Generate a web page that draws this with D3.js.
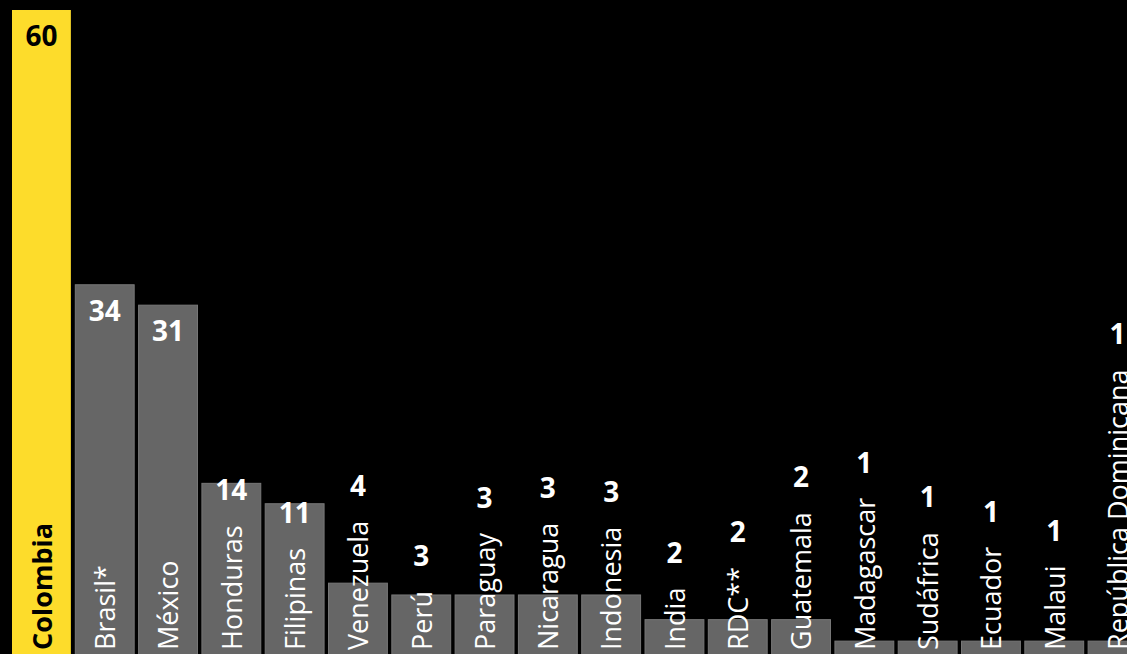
<!DOCTYPE html>
<html>
<head>
<meta charset="utf-8">
<script src="https://cdn.jsdelivr.net/npm/d3@7"></script>
<style>
  html, body { margin: 0; padding: 0; background: #000; }
  svg { display: block; }
  text { font-family: "Open Sans", "Noto Sans", sans-serif; }
</style>
</head>
<body>
<svg id="chart" width="1127" height="654"></svg>
<script>
// countries, in drawing order
var countries = ["Colombia", "Brasil*", "México", "Honduras", "Filipinas", "Venezuela",
  "Perú", "Paraguay", "Nicaragua", "Indonesia", "India", "RDC**", "Guatemala",
  "Madagascar", "Sudáfrica", "Ecuador", "Malaui", "República Dominicana"];
// numbers printed on the chart
var counts = [60, 34, 31, 14, 11, 4, 3, 3, 3, 3, 2, 2, 2, 1, 1, 1, 1, 1];
// bar lengths (the bars are not drawn to the printed numbers)
var barValues = [60, 34.4, 32.5, 15.9, 14.0, 6.6, 5.5, 5.5, 5.5, 5.5, 3.2, 3.2, 3.2, 1.2, 1.2, 1.2, 1.2, 1.2];

var svg = d3.select("#chart");
var width = 1127, height = 654;

svg.append("rect").attr("width", width).attr("height", height).attr("fill", "#000");

// the last bar runs off the right edge
var x = d3.scaleBand()
  .domain(countries)
  .range([12, 1147])
  .paddingInner(0.07)
  .paddingOuter(0);

var y = d3.scaleLinear()
  .domain([0, 60])
  .range([654, 10]);

var rows = countries.map(function(c, i) {
  return { name: c, count: counts[i], v: barValues[i], first: i === 0 };
});

var g = svg.selectAll("g.bar")
  .data(rows)
  .enter().append("g")
  .attr("class", "bar");

g.append("rect")
  .attr("x", function(d) { return x(d.name); })
  .attr("y", function(d) { return y(d.v); })
  .attr("width", x.bandwidth())
  .attr("height", function(d) { return y(0) - y(d.v) + 2; })
  .attr("fill", function(d) { return d.first ? "#fddc2b" : "#666666"; })
  .attr("stroke", function(d) { return d.first ? "none" : "#787878"; })
  .attr("stroke-width", 1);

// country names, rotated, reading upwards from the bottom
var names = g.append("text")
  .attr("transform", function(d) {
    return "translate(" + (x(d.name) + x.bandwidth() / 2) + ",650) rotate(-90)";
  })
  .attr("dy", "0.38em")
  .attr("font-size", 27)
  .attr("font-weight", function(d) { return d.first ? "bold" : "normal"; })
  .attr("fill", function(d) { return d.first ? "#000" : "#fff"; })
  .text(function(d) { return d.name; });

// value labels: inside the bar top, or above the name when the name sticks out
g.append("text")
  .attr("x", function(d) { return x(d.name) + x.bandwidth() / 2; })
  .attr("y", function(d, i) {
    var len = names.nodes()[i].getComputedTextLength();
    var inside = y(d.v) + 36;
    var above = 650 - len - 25;
    return Math.min(inside, above);
  })
  .attr("text-anchor", "middle")
  .attr("font-size", 28)
  .attr("font-weight", "bold")
  .attr("fill", function(d) { return d.first ? "#000" : "#fff"; })
  .text(function(d) { return d.count; });
</script>
</body>
</html>
